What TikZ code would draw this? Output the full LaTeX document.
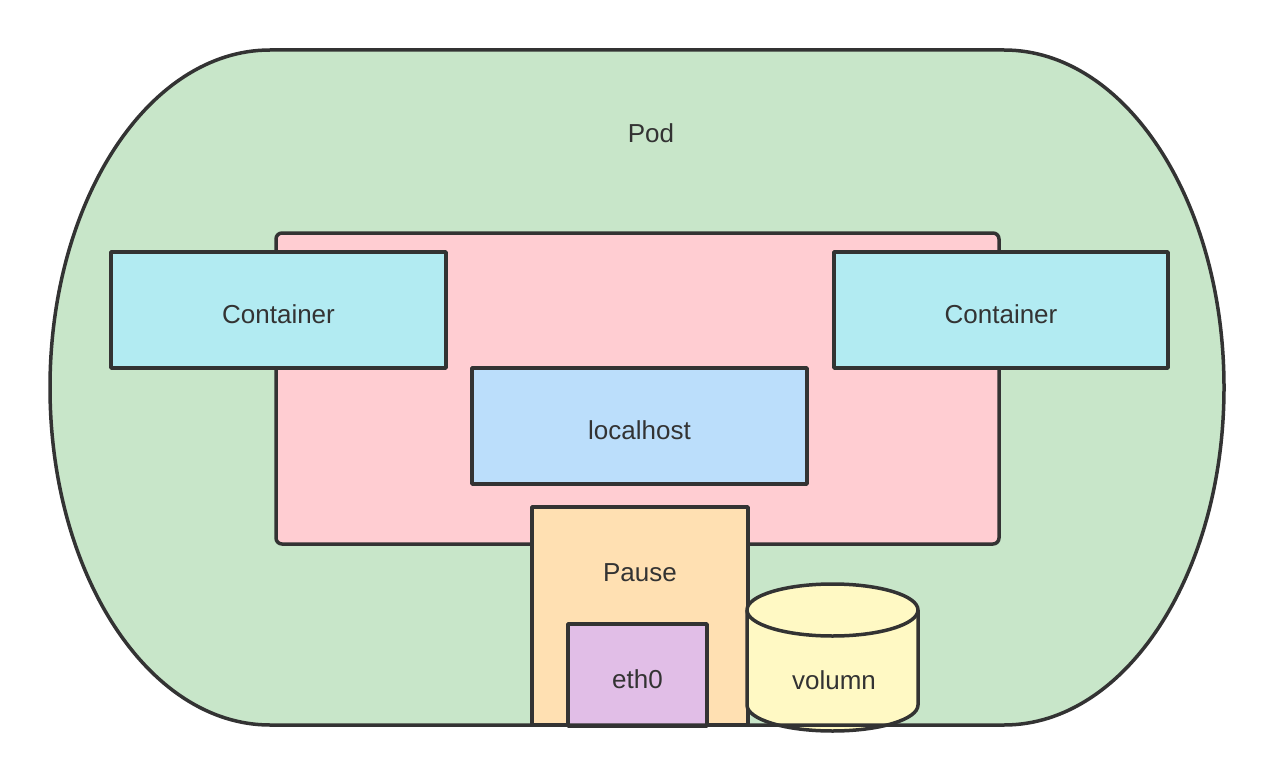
\documentclass[tikz,border=0pt]{standalone}
\usepackage{fontspec}
\setmainfont{Liberation Sans}
\usepackage{xcolor}
\usetikzlibrary{arrows.meta, shapes}

\definecolor{ink}{HTML}{333333}
\definecolor{podgreen}{HTML}{C8E6C9}
\definecolor{netpink}{HTML}{FFCDD2}
\definecolor{boxcyan}{HTML}{B2EBF2}
\definecolor{hostblue}{HTML}{BBDEFB}
\definecolor{pauseorange}{HTML}{FFE0B2}
\definecolor{ethpurple}{HTML}{E1BEE7}
\definecolor{volyellow}{HTML}{FFF9C4}

\begin{document}
\begin{tikzpicture}[x=1pt, y=-1pt, line width=3.5pt, line join=round,
                    font=\fontsize{26}{30}\selectfont]
\useasboundingbox (0,0) rectangle (1274,781);

% pod background
\path[fill=podgreen] (270,50) -- (1004,50)
    arc[start angle=-90, end angle=90, x radius=220, y radius=337.5]
    -- (270,725)
    arc[start angle=90, end angle=270, x radius=220, y radius=337.5] -- cycle;
\node[text=ink] (pod) at (651,133) {Pod};

\begin{scope}[every node/.style={rectangle,draw=ink,text=ink,line width=3.5pt,inner sep=0pt,
                                 text height=27pt,text depth=0pt}]
  \node[fill=netpink, rounded corners=6pt, minimum width=723pt, minimum height=311pt] (net) at (637.5,388.5) {};
    \node[fill=boxcyan, minimum width=335pt, minimum height=116pt] (C1) at (278.5,310) {Container};
    \node[fill=boxcyan, minimum width=334pt, minimum height=116pt] (C2) at (1001,310) {Container};
    \node[fill=hostblue, minimum width=335pt, minimum height=116pt] (lh) at (639.5,426) {localhost};
    \node[fill=pauseorange, minimum width=216pt, minimum height=218pt] (P) at (640,616) {};
    \node[fill=ethpurple, minimum width=139pt, minimum height=102pt] (E) at (637.5,675) {eth0};
\end{scope}
\node[text=ink] (Ptxt) at (640,573) {Pause};

% volumn
\path[draw=ink, fill=volyellow] (747,610) -- (747,705)
    arc[start angle=180, end angle=0, x radius=85.5, y radius=26]
    -- (918,610)
    arc[start angle=0, end angle=-180, x radius=85.5, y radius=26] -- cycle;
\draw[ink] (747,610) arc[start angle=180, end angle=0, x radius=85.5, y radius=26];
\node[text=ink] (V) at (834,680) {volumn};

% pod border
\draw[ink] (270,50) -- (1004,50)
    arc[start angle=-90, end angle=90, x radius=220, y radius=337.5]
    -- (270,725)
    arc[start angle=90, end angle=270, x radius=220, y radius=337.5] -- cycle;
\end{tikzpicture}
\end{document}
